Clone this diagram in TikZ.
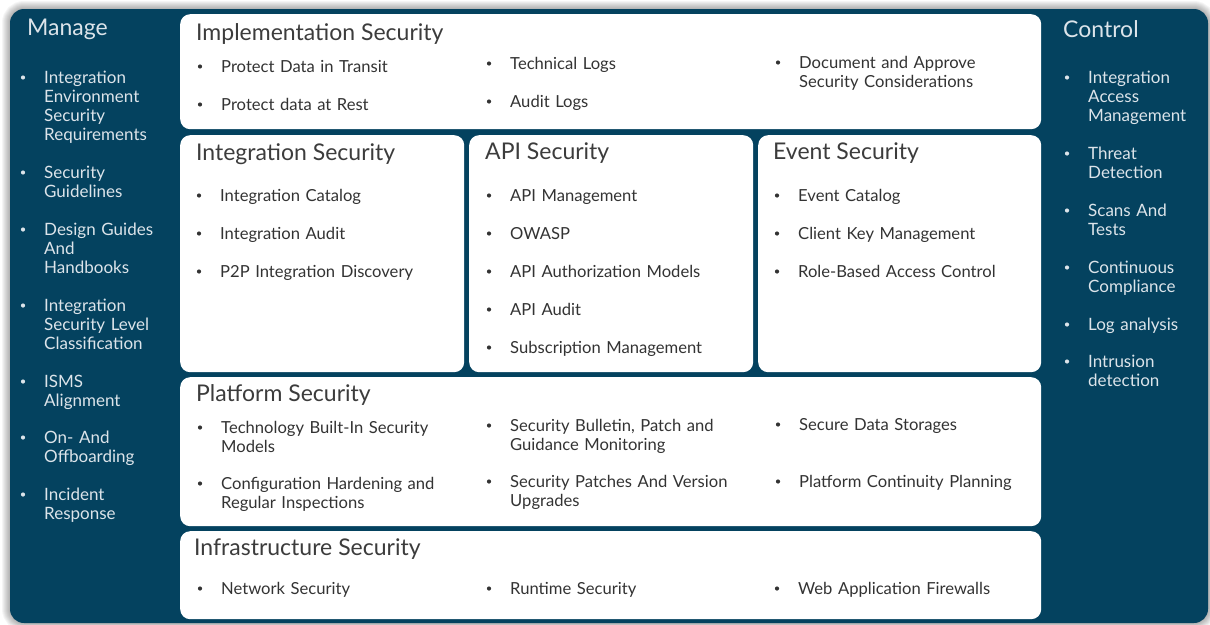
\documentclass[tikz,border=0pt]{standalone}
\usepackage{fontspec}
\setmainfont{Lato}
\definecolor{navy}{HTML}{04425F}
\definecolor{sidetext}{HTML}{DCE4EA}
\definecolor{bodytext}{HTML}{333333}
\definecolor{titletext}{HTML}{3C3C3C}
\newcommand{\Bul}[5]{% name, x, y(baseline), color, text
  \node (#1) [itemtxt, text=#4] at (#2,#3) {#5};
  \node (#1-b) [bulletnode, fill=#4] at (#2-21,#3-5.5) {};
}
\newcommand{\SBul}[4]{% name, x, y(baseline), text
  \node (#1) [itemtxt, sidefont, text=sidetext] at (#2,#3) {#4};
  \node (#1-b) [bulletnode, fill=sidetext] at (#2-21,#3-5.5) {};
}
\begin{document}
\begin{tikzpicture}[x=1pt,y=-1pt,
  panel/.style={fill=white, rounded corners=10pt, anchor=north west, inner sep=0pt, draw=none},
  itemtxt/.style={anchor=base west, inner sep=0pt, text width=320pt, align=left, font=\fontsize{16.6}{19}\selectfont},
  sidefont/.style={font=\fontsize{17}{19}\selectfont},
  bulletnode/.style={circle, inner sep=0pt, minimum size=4.2pt, draw=none},
  ptitle/.style={anchor=base west, inner sep=0pt, text=titletext, font=\fontsize{23}{25}\selectfont},
  stitle/.style={anchor=base west, inner sep=0pt, text=sidetext, font=\fontsize{23}{25}\selectfont},
]
\useasboundingbox (0,0) rectangle (1210,624);
\fill[white] (0,0) rectangle (1210,624);
\foreach \i in {2,4,...,16} {
  \draw[black, opacity=0.04, line width=\i pt, rounded corners=14pt] (10,9) rectangle (1208,623);
}
\fill[navy, rounded corners=14pt] (10,9) rectangle (1208,623);

% panels
\node (impl) [panel, minimum width=861pt, minimum height=115pt] at (180,14) {};
\node (integ) [panel, minimum width=284pt, minimum height=237pt] at (180,135) {};
\node (api) [panel, minimum width=284pt, minimum height=237pt] at (469,135) {};
\node (event) [panel, minimum width=283pt, minimum height=237pt] at (758,135) {};
\node (plat) [panel, minimum width=861pt, minimum height=149pt] at (180,377) {};
\node (infra) [panel, minimum width=861pt, minimum height=88pt] at (180,531) {};

% side titles
\node (manage) [stitle] at (27,35) {Manage};
\node (control) [stitle] at (1063,37) {Control};

% Manage items
\SBul{m1}{44}{83}{Integration\\Environment\\Security\\Requirements}
\SBul{m2}{44}{178}{Security\\Guidelines}
\SBul{m3}{44}{235}{Design Guides\\And\\Handbooks}
\SBul{m4}{44}{311}{Integration\\Security Level\\Classification}
\SBul{m5}{44}{387}{ISMS\\Alignment}
\SBul{m6}{44}{443}{On- And\\Offboarding}
\SBul{m7}{44}{500}{Incident\\Response}

% Control items
\SBul{c1}{1088}{83}{Integration\\Access\\Management}
\SBul{c2}{1088}{159}{Threat\\Detection}
\SBul{c3}{1088}{216}{Scans And\\Tests}
\SBul{c4}{1088}{273}{Continuous\\Compliance}
\SBul{c5}{1088}{330}{Log analysis}
\SBul{c6}{1088}{367}{Intrusion\\detection}

% Implementation
\node (implt) [ptitle] at (196,40) {Implementation Security};
\Bul{i1}{221}{72}{bodytext}{Protect Data in Transit}
\Bul{i2}{221}{110}{bodytext}{Protect data at Rest}
\Bul{i3}{510}{69}{bodytext}{Technical Logs}
\Bul{i4}{510}{107}{bodytext}{Audit Logs}
\Bul{i5}{799}{68}{bodytext}{Document and Approve\\Security Considerations}

% Integration
\node (integt) [ptitle] at (196,160) {Integration Security};
\Bul{g1}{220}{201}{bodytext}{Integration Catalog}
\Bul{g2}{220}{239}{bodytext}{Integration Audit}
\Bul{g3}{220}{277}{bodytext}{P2P Integration Discovery}

% API
\node (apit) [ptitle] at (485,159) {API Security};
\Bul{a1}{510}{201}{bodytext}{API Management}
\Bul{a2}{510}{239}{bodytext}{OWASP}
\Bul{a3}{510}{277}{bodytext}{API Authorization Models}
\Bul{a4}{510}{315}{bodytext}{API Audit}
\Bul{a5}{510}{353}{bodytext}{Subscription Management}

% Event
\node (eventt) [ptitle] at (773,159) {Event Security};
\Bul{e1}{798}{201}{bodytext}{Event Catalog}
\Bul{e2}{798}{239}{bodytext}{Client Key Management}
\Bul{e3}{798}{277}{bodytext}{Role-Based Access Control}

% Platform
\node (platt) [ptitle] at (196,401) {Platform Security};
\Bul{p1}{221}{433}{bodytext}{Technology Built-In Security\\Models}
\Bul{p2}{221}{489}{bodytext}{Configuration Hardening and\\Regular Inspections}
\Bul{p3}{510}{431}{bodytext}{Security Bulletin, Patch and\\Guidance Monitoring}
\Bul{p4}{510}{487}{bodytext}{Security Patches And Version\\Upgrades}
\Bul{p5}{799}{430}{bodytext}{Secure Data Storages}
\Bul{p6}{799}{487}{bodytext}{Platform Continuity Planning}

% Infrastructure
\node (infrat) [ptitle] at (194,555) {Infrastructure Security};
\Bul{f1}{221}{594}{bodytext}{Network Security}
\Bul{f2}{510}{594}{bodytext}{Runtime Security}
\Bul{f3}{798}{594}{bodytext}{Web Application Firewalls}
\end{tikzpicture}
\end{document}
